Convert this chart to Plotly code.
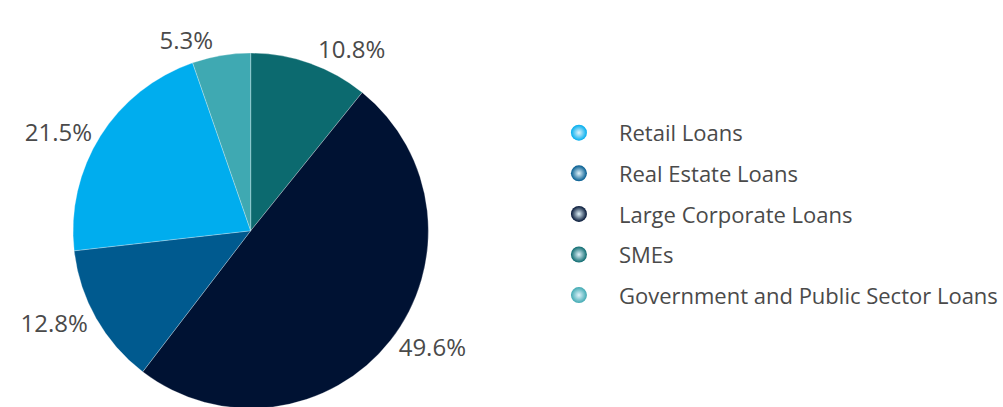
import plotly.graph_objects as go

# Slices in clockwise order from 12 o'clock
slice_labels = ["SMEs", "Large Corporate Loans", "Real Estate Loans", "Retail Loans",
                "Government and Public Sector Loans"]
slice_values = [10.8, 49.6, 12.8, 21.5, 5.3]
slice_colors = ["#0c6a6f", "#001233", "#005a8f", "#00adee", "#3fa9b2"]

# Legend order
legend_labels = ["Retail Loans", "Real Estate Loans", "Large Corporate Loans", "SMEs",
                 "Government and Public Sector Loans"]

color_map = dict(zip(slice_labels, slice_colors))

W, H = 1003, 414

fig = go.Figure()
fig.add_trace(go.Pie(
    labels=slice_labels,
    values=slice_values,
    sort=False,
    direction="clockwise",
    rotation=0,
    marker=dict(colors=slice_colors, line=dict(color="rgba(255,255,255,0.45)", width=0.6)),
    texttemplate="%{value:.1f}%",
    textposition="outside",
    textfont=dict(family="Open Sans", size=24, color="#4a4a4a"),
    showlegend=False,
    hoverinfo="label+value",
    domain=dict(x=[74 / W, 434 / W], y=[(H - 413) / H, (H - 53) / H]),
))

for i, lab in enumerate(legend_labels):
    fig.add_trace(go.Scatter(
        x=[None], y=[None], mode="markers", name=lab,
        legendgroup=f"g{i}",
        marker=dict(symbol="circle", size=16, color=color_map[lab],
                    gradient=dict(type="radial", color="#dff3fb")),
    ))

fig.update_layout(
    width=W, height=H,
    margin=dict(l=0, r=0, t=0, b=0),
    paper_bgcolor="white", plot_bgcolor="white",
    xaxis=dict(visible=False), yaxis=dict(visible=False),
    legend=dict(
        x=546 / W, y=(H - 113) / H, xanchor="left", yanchor="top",
        font=dict(family="Open Sans", size=22, color="#4a4a4a"),
        tracegroupgap=9, itemwidth=70,
        bgcolor="rgba(0,0,0,0)",
    ),
)

fig.write_html("out.html",
               config={"displayModeBar": False},
               post_script="document.body.style.margin='0';document.body.style.overflow='hidden';document.documentElement.style.overflow='hidden';")
